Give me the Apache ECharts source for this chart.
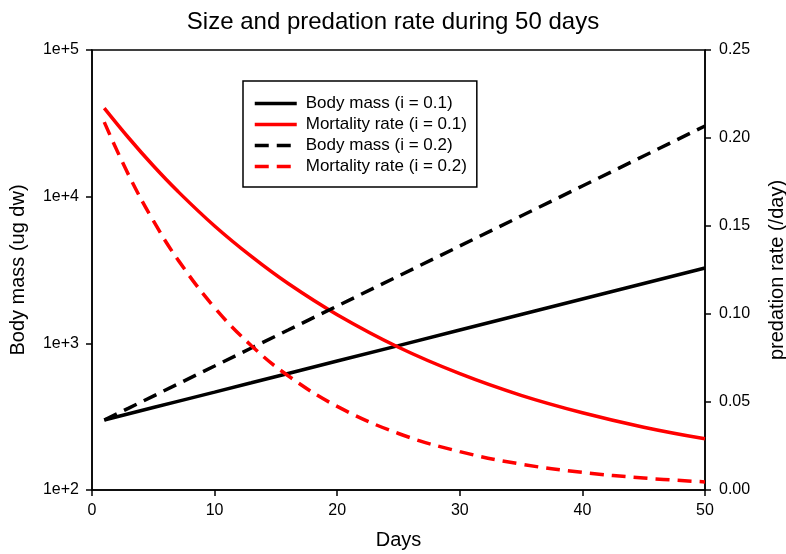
<!DOCTYPE html>
<html>
<head>
<meta charset="utf-8">
<script src="https://cdn.jsdelivr.net/npm/echarts@6/dist/echarts.min.js"></script>
<style>
  html, body { margin: 0; padding: 0; background: #fff; }
  #chart { width: 786px; height: 554px; }
</style>
</head>
<body>
<div id="chart"></div>
<script>
// values
const days = [1, 3, 5, 7, 10, 13, 16, 20, 25, 30, 35, 40, 45, 50];
const massLow = [300, 331, 365, 402, 465, 538, 623, 757, 965, 1232, 1571, 2004, 2557, 3262];
const massHigh = [300, 362, 437, 528, 700, 929, 1232, 1797, 2877, 4608, 7380, 11820, 18930, 30330];
const rateLow = [0.217, 0.200, 0.1842, 0.1697, 0.150, 0.1327, 0.1173, 0.0996, 0.0811, 0.0661, 0.0538, 0.0439, 0.0357, 0.0291];
const rateHigh = [0.209, 0.1788, 0.153, 0.1309, 0.1036, 0.082, 0.0649, 0.0475, 0.0321, 0.0218, 0.0147, 0.0100, 0.0068, 0.0046];
const legendNames = ["Body mass (i = 0.1)", "Mortality rate (i = 0.1)", "Body mass (i = 0.2)", "Mortality rate (i = 0.2)"];

const font = "Liberation Sans";
const pair = (ys) => days.map((d, i) => [d, ys[i]]);
const dash = [14, 8];

let myChart = echarts.init(document.getElementById("chart"));
let option = {
  animation: false,
  textStyle: { fontFamily: font, color: "#000" },
  title: {
    text: "Size and predation rate during 50 days",
    left: "center",
    top: 5,
    textStyle: { fontSize: 24, fontWeight: "normal", color: "#000", fontFamily: font },
  },
  grid: {
    left: 92,
    right: 81,
    top: 50,
    bottom: 64,
    outerBoundsMode: "none",
    containLabel: false,
    show: true,
    borderColor: "#000",
    borderWidth: 1.5,
  },
  legend: {
    orient: "vertical",
    left: 243,
    top: 81,
    padding: [14, 10, 12, 10],
    borderColor: "#000",
    borderWidth: 1.5,
    itemWidth: 42,
    itemHeight: 14,
    itemGap: 4,
    itemStyle: { opacity: 0 },
    lineStyle: { width: 3.5 },
    textStyle: { fontSize: 17, color: "#000", fontFamily: font, padding: [0, 0, 0, 4] },
    data: legendNames,
  },
  xAxis: {
    type: "value",
    min: 0,
    max: 50,
    interval: 10,
    name: "Days",
    nameLocation: "middle",
    nameGap: 40,
    nameTextStyle: { fontSize: 20, color: "#000" },
    axisLine: { lineStyle: { color: "#000", width: 1.5 } },
    axisTick: { length: 6, lineStyle: { color: "#000", width: 1.5 } },
    axisLabel: { fontSize: 16, color: "#000", margin: 13 },
    splitLine: { show: false },
  },
  yAxis: [
    {
      type: "log",
      logBase: 10,
      min: 100,
      max: 100000,
      name: "Body mass (ug dw)",
      nameLocation: "middle",
      nameGap: 64,
      nameTextStyle: { fontSize: 20, color: "#000" },
      axisLine: { show: true, lineStyle: { color: "#000", width: 1.5 } },
      axisTick: { show: true, length: 6, lineStyle: { color: "#000", width: 1.5 } },
      axisLabel: {
        fontSize: 16,
        color: "#000",
        margin: 13,
        formatter: (v) => "1e+" + Math.round(Math.log10(v)),
      },
      splitLine: { show: false },
    },
    {
      type: "value",
      min: 0,
      max: 0.25,
      interval: 0.05,
      position: "right",
      name: "predation rate (/day)",
      nameLocation: "middle",
      nameGap: 62,
      nameTextStyle: { fontSize: 20, color: "#000" },
      axisLine: { show: true, lineStyle: { color: "#000", width: 1.5 } },
      axisTick: { show: true, length: 6, lineStyle: { color: "#000", width: 1.5 } },
      axisLabel: {
        fontSize: 16,
        color: "#000",
        margin: 14,
        formatter: (v) => v.toFixed(2),
      },
      splitLine: { show: false },
    },
  ],
  series: [
    {
      name: legendNames[0],
      type: "line",
      yAxisIndex: 0,
      data: pair(massLow),
      symbol: "none",
      lineStyle: { color: "#000", width: 3.5 },
      itemStyle: { color: "#000" },
    },
    {
      name: legendNames[1],
      type: "line",
      yAxisIndex: 1,
      data: pair(rateLow),
      symbol: "none",
      smooth: 0.4,
      lineStyle: { color: "#ff0000", width: 3.5 },
      itemStyle: { color: "#ff0000" },
    },
    {
      name: legendNames[2],
      type: "line",
      yAxisIndex: 0,
      data: pair(massHigh),
      symbol: "none",
      lineStyle: { color: "#000", width: 3.5, type: dash },
      itemStyle: { color: "#000" },
    },
    {
      name: legendNames[3],
      type: "line",
      yAxisIndex: 1,
      data: pair(rateHigh),
      symbol: "none",
      smooth: 0.4,
      lineStyle: { color: "#ff0000", width: 3.5, type: dash },
      itemStyle: { color: "#ff0000" },
    },
  ],
};
myChart.setOption(option);
window.addEventListener("resize", () => {
  myChart.resize();
});
</script>
</body>
</html>
